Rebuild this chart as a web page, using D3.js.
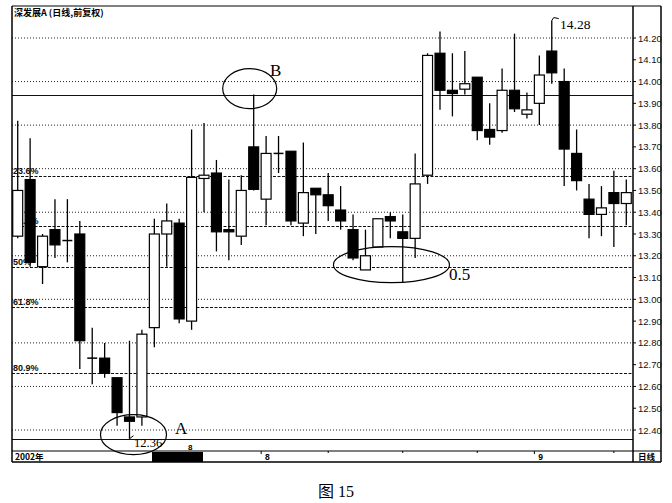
<!DOCTYPE html>
<html><head><meta charset="utf-8">
<script src="https://cdn.jsdelivr.net/npm/d3@7"></script>
<style>
html,body{margin:0;padding:0;background:#fff;}
svg{display:block;}
</style></head>
<body>
<svg id="c" width="672" height="503"></svg>
<script>
// ---- data ----
const dates = ["07-04","07-05","07-08","07-09","07-10","07-11","07-12","07-15","07-16","07-17",
"07-18","07-19","07-22","07-23","07-24","07-25","07-26","07-29","07-30","07-31",
"08-01","08-02","08-05","08-06","08-07","08-08","08-09","08-12","08-13","08-14",
"08-15","08-16","08-19","08-20","08-21","08-22","08-23","08-26","08-27","08-28",
"08-29","08-30","09-02","09-03","09-04","09-05","09-06","09-09","09-10","09-11"];
const opens  = [13.29,13.55,13.15,13.32,13.27,13.30,12.73,12.73,12.64,12.46,
12.46,12.87,13.30,13.35,12.90,13.555,13.58,13.32,13.29,13.70,
13.46,13.67,13.68,13.35,13.51,13.48,13.41,13.32,13.135,13.24,
13.38,13.31,13.28,13.57,14.13,13.96,13.965,14.02,13.78,13.775,
13.96,13.85,13.90,14.14,14.00,13.67,13.46,13.39,13.49,13.44];
const highs  = [13.82,13.74,13.30,13.46,13.46,13.36,12.87,12.80,12.64,12.81,
12.86,13.37,13.44,13.37,13.78,13.81,13.64,13.55,13.57,13.94,
13.75,13.75,13.68,13.72,13.51,13.58,13.52,13.39,13.32,13.37,
13.40,13.39,13.67,14.13,14.23,14.13,14.14,14.02,13.90,14.06,
14.22,13.95,14.12,14.28,14.06,13.78,13.53,13.52,13.59,13.55];
const lows   = [13.28,13.15,13.07,13.19,13.17,12.68,12.61,12.64,12.42,12.36,
12.42,12.78,13.15,12.89,12.86,13.40,13.22,13.18,13.25,13.50,
13.34,13.58,13.34,13.29,13.30,13.36,13.32,13.18,13.135,13.24,
13.28,13.08,13.19,13.53,13.87,13.84,13.94,13.73,13.71,13.765,
13.86,13.83,13.80,13.99,13.52,13.50,13.28,13.29,13.24,13.34];
const closes = [13.50,13.17,13.29,13.25,13.27,12.81,12.73,12.66,12.48,12.44,
12.84,13.30,13.36,12.91,13.56,13.57,13.31,13.31,13.50,13.505,
13.67,13.67,13.36,13.49,13.48,13.43,13.36,13.19,13.20,13.37,
13.36,13.28,13.53,14.12,13.96,13.945,13.99,13.775,13.745,13.96,
13.875,13.87,14.03,14.04,13.69,13.545,13.39,13.42,13.44,13.49];
const priceTicks = [12.40,12.50,12.60,12.70,12.80,12.90,13.00,13.10,13.20,13.30,13.40,13.50,13.60,13.70,13.80,13.90,14.00,14.10,14.20];
const gridPrices = [12.40,12.60,12.80,13.00,13.20,13.40,13.60,13.80,14.00,14.20];
const fibHigh = 13.94, fibLow = 12.36;
const fibRatios = [0, 0.236, 0.382, 0.5, 0.618, 0.809, 1];
const fibLabels = ["", "23.6%", "38.2%", "50%", "61.8%", "80.9%", ""];
const monthStarts = ["08-01", "09-02"];
const monthLabels = ["8", "9"];
const minorTickDates = ["08-08", "08-16", "08-26", "09-10"];

// ---- layout ----
const svg = d3.select("#c");
const L = 12, R = 633, RB = 661, T = 6, BAR = 451, B = 462;
const x = d3.scaleBand().domain(dates).range([11.5, 632.5]).paddingInner(0.2).paddingOuter(0.1);
const y = d3.scaleLinear().domain([12.40, 14.20]).range([430, 38]);
const cx = d => x(d) + x.bandwidth() / 2;

// title
svg.append("text").attr("x", 14).attr("y", 16)
  .attr("font-family", "Noto Sans CJK SC, sans-serif").attr("font-size", 9).attr("font-weight", "bold")
  .text("深发展A (日线,前复权)");

// grid dotted lines
svg.append("g").selectAll("line").data(gridPrices).join("line")
  .attr("x1", L).attr("x2", R).attr("y1", d => y(d)).attr("y2", d => y(d))
  .attr("stroke", "#222").attr("stroke-width", 1).attr("stroke-dasharray", "1,2");

// fib lines
const fibVals = fibRatios.map(r => fibHigh - r * (fibHigh - fibLow));
svg.append("g").selectAll("line").data(fibVals).join("line")
  .attr("x1", L).attr("x2", R).attr("y1", d => Math.round(y(d)) + 0.5).attr("y2", d => Math.round(y(d)) + 0.5)
  .attr("stroke", "#111").attr("stroke-width", (d, i) => (i === 0 || i === fibVals.length - 1) ? 1.2 : 1.1)
  .attr("stroke-dasharray", (d, i) => (i === 0 || i === fibVals.length - 1) ? null : "3,1.5");
svg.append("g").selectAll("text").data(fibVals).join("text")
  .attr("x", 13).attr("y", d => y(d) - 2)
  .attr("font-family", "Liberation Sans, Arial, sans-serif").attr("font-size", 9).attr("font-weight", "bold")
  .attr("fill", "#111")
  .text((d, i) => fibLabels[i]);

// candles
const idx = d3.range(dates.length);
const g = svg.append("g");
g.selectAll("line.w").data(idx).join("line").attr("class", "w")
  .attr("x1", i => cx(dates[i])).attr("x2", i => cx(dates[i]))
  .attr("y1", i => y(highs[i])).attr("y2", i => y(lows[i]))
  .attr("stroke", "#000").attr("stroke-width", 1.3);
g.selectAll("rect.b").data(idx.filter(i => Math.abs(y(opens[i]) - y(closes[i])) >= 1.5)).join("rect").attr("class", "b")
  .attr("x", i => x(dates[i])).attr("width", x.bandwidth())
  .attr("y", i => y(Math.max(opens[i], closes[i])))
  .attr("height", i => Math.abs(y(opens[i]) - y(closes[i])))
  .attr("fill", i => closes[i] >= opens[i] ? "#fff" : "#000")
  .attr("stroke", "#000").attr("stroke-width", 1.2);
g.selectAll("line.d").data(idx.filter(i => Math.abs(y(opens[i]) - y(closes[i])) < 1.5)).join("line").attr("class", "d")
  .attr("x1", i => x(dates[i])).attr("x2", i => x(dates[i]) + x.bandwidth())
  .attr("y1", i => y(closes[i])).attr("y2", i => y(closes[i]))
  .attr("stroke", "#000").attr("stroke-width", 1.5);

// frame
const frame = svg.append("g").attr("stroke", "#000").attr("fill", "none");
frame.append("line").attr("x1", L).attr("x2", RB).attr("y1", T).attr("y2", T).attr("stroke-width", 1);
frame.append("line").attr("x1", L).attr("x2", L).attr("y1", T).attr("y2", B).attr("stroke-width", 1.5);
frame.append("line").attr("x1", R).attr("x2", R).attr("y1", T).attr("y2", B).attr("stroke-width", 1.5);
frame.append("line").attr("x1", RB).attr("x2", RB).attr("y1", T).attr("y2", B).attr("stroke-width", 1.5);
frame.append("line").attr("x1", L).attr("x2", RB).attr("y1", BAR).attr("y2", BAR).attr("stroke-width", 1);
frame.append("line").attr("x1", L).attr("x2", RB).attr("y1", B).attr("y2", B).attr("stroke-width", 1.5);

// right price axis
const ax = svg.append("g");
ax.selectAll("line").data(priceTicks).join("line")
  .attr("x1", R).attr("x2", R + 3).attr("y1", d => y(d)).attr("y2", d => y(d)).attr("stroke", "#000");
ax.selectAll("text").data(priceTicks).join("text")
  .attr("x", R + 5).attr("y", d => y(d) + 3.5)
  .attr("font-family", "Liberation Sans, Arial, sans-serif").attr("font-size", 9.5)
  .attr("fill", "#111")
  .text(d => d3.format(".2f")(d));

// date bar
svg.append("text").attr("x", 15).attr("y", 460)
  .attr("font-family", "Noto Sans CJK SC, sans-serif").attr("font-size", 8.5).attr("font-weight", "bold")
  .text("2002年");
svg.append("rect").attr("x", 152).attr("y", BAR + 1).attr("width", 51).attr("height", B - BAR - 1).attr("fill", "#000");
svg.append("text").attr("x", 188).attr("y", 450)
  .attr("font-family", "Liberation Sans, Arial, sans-serif").attr("font-size", 8).attr("font-weight", "bold").text("8");
svg.append("g").selectAll("line").data(monthStarts).join("line")
  .attr("x1", d => x(d)).attr("x2", d => x(d)).attr("y1", BAR).attr("y2", BAR + 3).attr("stroke", "#000");
svg.append("g").selectAll("line").data(minorTickDates).join("line")
  .attr("x1", d => cx(d)).attr("x2", d => cx(d)).attr("y1", BAR).attr("y2", BAR + 2).attr("stroke", "#000");
svg.append("g").selectAll("text").data(monthStarts).join("text")
  .attr("x", d => cx(d) - 1).attr("y", 460)
  .attr("font-family", "Liberation Sans, Arial, sans-serif").attr("font-size", 8.5).attr("font-weight", "bold")
  .text((d, i) => monthLabels[i]);
svg.append("text").attr("x", 638).attr("y", 460)
  .attr("font-family", "Noto Sans CJK SC, sans-serif").attr("font-size", 8.5).attr("font-weight", "bold")
  .text("日线");

// annotations
const serif = "Liberation Serif, Times New Roman, serif";
const ann = svg.append("g").attr("fill", "none").attr("stroke", "#000").attr("stroke-width", 1.2);
// B ellipse around the high of 07-31
ann.append("ellipse").attr("cx", cx("07-31") - 4).attr("cy", y(fibHigh) - 6).attr("rx", 27).attr("ry", 20);
svg.append("text").attr("x", 270).attr("y", 76).attr("font-family", serif).attr("font-size", 17).text("B");
// A ellipse around low
ann.append("ellipse").attr("cx", cx("07-17") + 4).attr("cy", y(fibLow) - 4).attr("rx", 33).attr("ry", 20);
svg.append("text").attr("x", 175).attr("y", 434).attr("font-family", serif).attr("font-size", 17).text("A");
ann.append("path").attr("d", `M${cx("07-17")},${y(fibLow)} l4,-3`).attr("stroke-width", 1);
svg.append("text").attr("x", 134).attr("y", 447).attr("font-family", serif).attr("font-size", 12.5).text("12.36");
// 0.5 ellipse
ann.append("ellipse").attr("cx", cx("08-13") + 26).attr("cy", y(fibVals[3]) - 2).attr("rx", 58).attr("ry", 18);
svg.append("text").attr("x", 449).attr("y", 280).attr("font-family", serif).attr("font-size", 17).text("0.5");
// 14.28 label
ann.append("path").attr("d", `M${cx("09-03")},${y(14.28)} l2,-3 l5,1`).attr("stroke-width", 1);
svg.append("text").attr("x", 560).attr("y", 29).attr("font-family", serif).attr("font-size", 13.5).text("14.28");

// caption
svg.append("text").attr("x", 336).attr("y", 497).attr("text-anchor", "middle")
  .attr("font-family", "Liberation Serif, Noto Sans CJK SC, serif").attr("font-size", 16)
  .text("图 15");
</script>
</body></html>
